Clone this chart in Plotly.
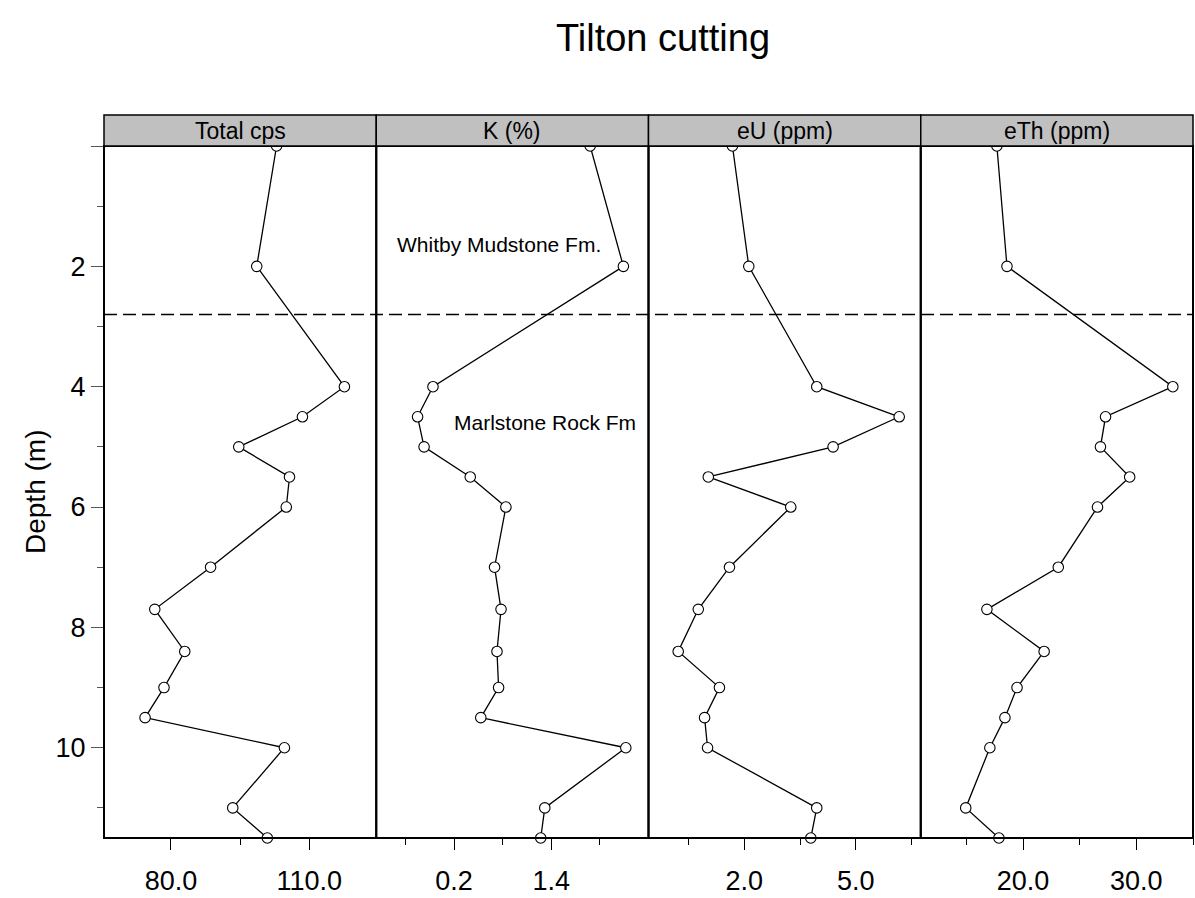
import plotly.graph_objects as go

# ---------------- data ----------------
depth = [0, 2, 4, 4.5, 5, 5.5, 6, 7, 7.7, 8.4, 9, 9.5, 10, 11, 11.5]
total_cps = [102.9, 98.6, 117.6, 108.5, 94.7, 105.7, 105.0, 88.6, 76.5, 83.0, 78.5, 74.4, 104.6, 93.4, 100.9]
k_pct = [1.88, 2.29, -0.06, -0.25, -0.17, 0.40, 0.84, 0.70, 0.78, 0.73, 0.75, 0.53, 2.32, 1.32, 1.27]
eu_ppm = [1.68, 2.12, 3.95, 6.17, 4.39, 1.03, 3.25, 1.60, 0.76, 0.22, 1.33, 0.93, 1.01, 3.95, 3.79]
eth_ppm = [17.69, 18.58, 33.22, 27.28, 26.83, 29.41, 26.57, 23.11, 16.81, 21.86, 19.47, 18.40, 17.07, 14.94, 17.87]

panel_titles = ["Total cps", "K (%)", "eU (ppm)", "eTh (ppm)"]
series = [total_cps, k_pct, eu_ppm, eth_ppm]
x_ranges = [[65.5, 124.5], [-0.76, 2.6], [-0.58, 6.75], [10.97, 35.0]]
major_ticks = [[80, 110], [0.2, 1.4], [2.0, 5.0], [20, 30]]
major_labels = [["80.0", "110.0"], ["0.2", "1.4"], ["2.0", "5.0"], ["20.0", "30.0"]]
minor_ticks = [[65, 95, 125], [-0.4, 0.8, 2.0], [0.5, 3.5, 6.5], [15, 25, 35]]

depth_major = [0, 2, 4, 6, 8, 10]
depth_labels = ["", "2", "4", "6", "8", "10"]
depth_minor = [1, 3, 5, 7, 9, 11]
depth_range = [11.5, 0]
boundary_depth = 2.8

formations = [
    {"text": "Whitby Mudstone Fm.", "x": 0.75, "y": 1.64},
    {"text": "Marlstone Rock Fm", "x": 1.32, "y": 4.6},
]

# ---------------- figure ----------------
FONT = "Liberation Sans, Arial, sans-serif"
W, H = 1195, 898
ML, MR, MT, MB = 104, 2, 146, 60
plot_h = H - MT - MB
strip_h = 31 / plot_h

fig = go.Figure()
layout = dict(
    width=W, height=H,
    margin=dict(l=ML, r=MR, t=MT, b=MB, pad=0),
    plot_bgcolor="white", paper_bgcolor="white",
    showlegend=False,
    font=dict(family=FONT, color="black"),
)

shapes = []
annotations = []
n = len(series)
for i in range(n):
    ax = "" if i == 0 else str(i + 1)
    fig.add_trace(go.Scatter(
        x=series[i], y=depth, mode="lines+markers",
        xaxis="x" + ax, yaxis="y",
        line=dict(color="black", width=1.3),
        marker=dict(symbol="circle", size=10.5, color="white",
                    line=dict(color="black", width=1.1)),
        cliponaxis=False,
    ))
    layout["xaxis" + ax] = dict(
        domain=[i / n, (i + 1) / n], anchor="y",
        range=x_ranges[i], showgrid=False, zeroline=False, showline=False,
        tickmode="array", tickvals=major_ticks[i], ticktext=major_labels[i],
        ticks="outside", ticklen=11, tickwidth=1.3, tickcolor="black",
        tickfont=dict(size=27, family=FONT, color="black"),
        ticklabelstandoff=8,
        minor=dict(tickmode="array", tickvals=minor_ticks[i], ticks="outside",
                   ticklen=6, tickwidth=1.3, tickcolor="black", showgrid=False),
    )
    # panel frame
    shapes.append(dict(type="rect", xref="x%s domain" % ax, yref="y domain",
                       x0=0, x1=1, y0=0, y1=1, line=dict(color="black", width=2),
                       fillcolor="rgba(0,0,0,0)", layer="above"))
    # strip
    shapes.append(dict(type="rect", xref="x%s domain" % ax, yref="paper",
                       x0=0, x1=1, y0=1, y1=1 + strip_h,
                       line=dict(color="black", width=1.5), fillcolor="#c0c0c0",
                       layer="above"))
    annotations.append(dict(text=panel_titles[i], xref="x%s domain" % ax, yref="paper",
                            x=0.5, y=1 + strip_h / 2, showarrow=False,
                            xanchor="center", yanchor="middle",
                            font=dict(size=23, family=FONT, color="black")))

layout["yaxis"] = dict(
    domain=[0, 1], anchor="x", range=depth_range,
    showgrid=False, zeroline=False, showline=False,
    tickmode="array", tickvals=depth_major, ticktext=depth_labels,
    ticks="outside", ticklen=12, tickwidth=1.3, tickcolor="#555",
    tickfont=dict(size=27, family=FONT, color="black"),
    minor=dict(tickmode="array", tickvals=depth_minor, ticks="outside",
               ticklen=6, tickwidth=1.3, tickcolor="#555", showgrid=False),
)

# formation boundary
shapes.append(dict(type="line", xref="paper", yref="y", x0=0, x1=1,
                   y0=boundary_depth, y1=boundary_depth,
                   line=dict(color="black", width=1.4, dash="13px,6px")))

for f in formations:
    annotations.append(dict(text=f["text"], xref="x2", yref="y", x=f["x"], y=f["y"],
                            showarrow=False, xanchor="center", yanchor="middle",
                            font=dict(size=21, family=FONT, color="black")))

annotations.append(dict(text="Depth (m)", xref="paper", yref="paper",
                        x=-69 / (W - ML - MR), y=0.5, textangle=-90, showarrow=False,
                        xanchor="center", yanchor="middle",
                        font=dict(size=28, family=FONT, color="black")))

layout["title"] = dict(text="Tilton cutting", x=663 / W, y=1 - 38 / H,
                       xref="container", yref="container",
                       xanchor="center", yanchor="middle",
                       font=dict(size=38, family=FONT, color="black"))
layout["shapes"] = shapes
layout["annotations"] = annotations
fig.update_layout(**layout)

fig.write_html("out.html")
